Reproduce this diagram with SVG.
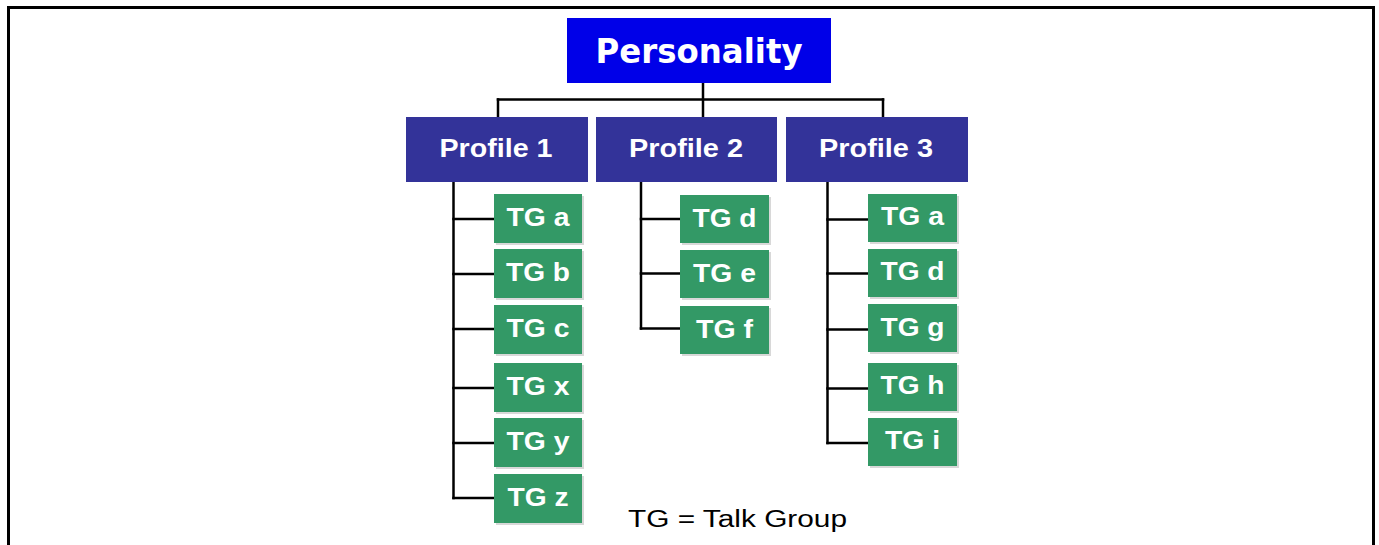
<svg xmlns="http://www.w3.org/2000/svg" width="1379" height="545" viewBox="0 0 1379 545">
<style>
.frame{fill:none;stroke:#000;stroke-width:3}
.con line{stroke:#000;stroke-width:2.5;stroke-linecap:square}
.top{fill:#0000E8}
.prof{fill:#333399}
.tg{fill:#339966}
.sh{fill:#d8d8d8}
.t1{font-family:"DejaVu Sans",Verdana,sans-serif;font-weight:bold;font-size:33px;fill:#fff;text-anchor:middle}
.t2{font-family:"Liberation Sans",Arial,sans-serif;font-weight:bold;font-size:26px;fill:#fff;text-anchor:middle}
.t3{font-family:"Liberation Sans",Arial,sans-serif;font-weight:bold;font-size:26px;fill:#fff;text-anchor:middle}
.note{font-family:"Liberation Sans",Arial,sans-serif;font-size:23.5px;fill:#000}
</style>
<rect width="1379" height="545" fill="#fff"/>
<rect class="frame" x="8.5" y="7.5" width="1365" height="560"/>
<g id="connectors" class="con">
<line x1="703" y1="83" x2="703" y2="117"/>
<line x1="498" y1="99.5" x2="883" y2="99.5"/>
<line x1="498" y1="99.5" x2="498" y2="117"/>
<line x1="883" y1="99.5" x2="883" y2="117"/>
<line x1="453.5" y1="182" x2="453.5" y2="498"/>
<line x1="453.5" y1="219" x2="494" y2="219"/>
<line x1="453.5" y1="274" x2="494" y2="274"/>
<line x1="453.5" y1="329" x2="494" y2="329"/>
<line x1="453.5" y1="388" x2="494" y2="388"/>
<line x1="453.5" y1="443" x2="494" y2="443"/>
<line x1="453.5" y1="498" x2="494" y2="498"/>
<line x1="641" y1="182" x2="641" y2="328.5"/>
<line x1="641" y1="219" x2="680" y2="219"/>
<line x1="641" y1="273.5" x2="680" y2="273.5"/>
<line x1="641" y1="328.5" x2="680" y2="328.5"/>
<line x1="827.5" y1="182" x2="827.5" y2="443"/>
<line x1="827.5" y1="219.5" x2="868" y2="219.5"/>
<line x1="827.5" y1="273.5" x2="868" y2="273.5"/>
<line x1="827.5" y1="329.5" x2="868" y2="329.5"/>
<line x1="827.5" y1="388.5" x2="868" y2="388.5"/>
<line x1="827.5" y1="443" x2="868" y2="443"/>
</g>
<g id="personality"><rect class="top" x="567" y="18" width="264" height="65"/><text class="t1" x="699" y="63" textLength="207" lengthAdjust="spacingAndGlyphs">Personality</text></g>
<g id="profile1"><rect class="prof" x="406" y="117" width="182" height="65"/><text class="t2" x="496" y="157" textLength="113" lengthAdjust="spacingAndGlyphs">Profile 1</text></g>
<g id="profile2"><rect class="prof" x="596" y="117" width="181" height="65"/><text class="t2" x="686" y="157" textLength="114" lengthAdjust="spacingAndGlyphs">Profile 2</text></g>
<g id="profile3"><rect class="prof" x="786" y="117" width="182" height="65"/><text class="t2" x="876" y="157" textLength="114" lengthAdjust="spacingAndGlyphs">Profile 3</text></g>
<g id="p1-tga"><rect class="sh" x="496" y="196" width="88" height="49"/><rect class="tg" x="494" y="194" width="88" height="49"/><text class="t3" x="538" y="226" textLength="63" lengthAdjust="spacingAndGlyphs">TG a</text></g>
<g id="p1-tgb"><rect class="sh" x="496" y="251" width="88" height="49"/><rect class="tg" x="494" y="249" width="88" height="49"/><text class="t3" x="538" y="281" textLength="64" lengthAdjust="spacingAndGlyphs">TG b</text></g>
<g id="p1-tgc"><rect class="sh" x="496" y="307" width="88" height="49"/><rect class="tg" x="494" y="305" width="88" height="49"/><text class="t3" x="538" y="337" textLength="63" lengthAdjust="spacingAndGlyphs">TG c</text></g>
<g id="p1-tgx"><rect class="sh" x="496" y="365" width="88" height="49"/><rect class="tg" x="494" y="363" width="88" height="49"/><text class="t3" x="538" y="395" textLength="63" lengthAdjust="spacingAndGlyphs">TG x</text></g>
<g id="p1-tgy"><rect class="sh" x="496" y="420" width="88" height="49"/><rect class="tg" x="494" y="418" width="88" height="49"/><text class="t3" x="538" y="450" textLength="63" lengthAdjust="spacingAndGlyphs">TG y</text></g>
<g id="p1-tgz"><rect class="sh" x="496" y="476" width="88" height="49"/><rect class="tg" x="494" y="474" width="88" height="49"/><text class="t3" x="538" y="506" textLength="61" lengthAdjust="spacingAndGlyphs">TG z</text></g>
<g id="p2-tgd"><rect class="sh" x="682" y="197" width="89" height="48"/><rect class="tg" x="680" y="195" width="89" height="48"/><text class="t3" x="724.5" y="227" textLength="64" lengthAdjust="spacingAndGlyphs">TG d</text></g>
<g id="p2-tge"><rect class="sh" x="682" y="252" width="89" height="48"/><rect class="tg" x="680" y="250" width="89" height="48"/><text class="t3" x="724.5" y="282" textLength="63" lengthAdjust="spacingAndGlyphs">TG e</text></g>
<g id="p2-tgf"><rect class="sh" x="682" y="308" width="89" height="48"/><rect class="tg" x="680" y="306" width="89" height="48"/><text class="t3" x="724.5" y="338" textLength="57" lengthAdjust="spacingAndGlyphs">TG f</text></g>
<g id="p3-tga"><rect class="sh" x="870" y="196" width="89" height="48"/><rect class="tg" x="868" y="194" width="89" height="48"/><text class="t3" x="912.5" y="225" textLength="63" lengthAdjust="spacingAndGlyphs">TG a</text></g>
<g id="p3-tgd"><rect class="sh" x="870" y="251" width="89" height="48"/><rect class="tg" x="868" y="249" width="89" height="48"/><text class="t3" x="912.5" y="280" textLength="64" lengthAdjust="spacingAndGlyphs">TG d</text></g>
<g id="p3-tgg"><rect class="sh" x="870" y="306" width="89" height="48"/><rect class="tg" x="868" y="304" width="89" height="48"/><text class="t3" x="912.5" y="336" textLength="64" lengthAdjust="spacingAndGlyphs">TG g</text></g>
<g id="p3-tgh"><rect class="sh" x="870" y="365" width="89" height="48"/><rect class="tg" x="868" y="363" width="89" height="48"/><text class="t3" x="912.5" y="394" textLength="64" lengthAdjust="spacingAndGlyphs">TG h</text></g>
<g id="p3-tgi"><rect class="sh" x="870" y="420" width="89" height="48"/><rect class="tg" x="868" y="418" width="89" height="48"/><text class="t3" x="912.5" y="449" textLength="55" lengthAdjust="spacingAndGlyphs">TG i</text></g>
<text class="note" x="628" y="527" textLength="219" lengthAdjust="spacingAndGlyphs">TG = Talk Group</text>
</svg>
